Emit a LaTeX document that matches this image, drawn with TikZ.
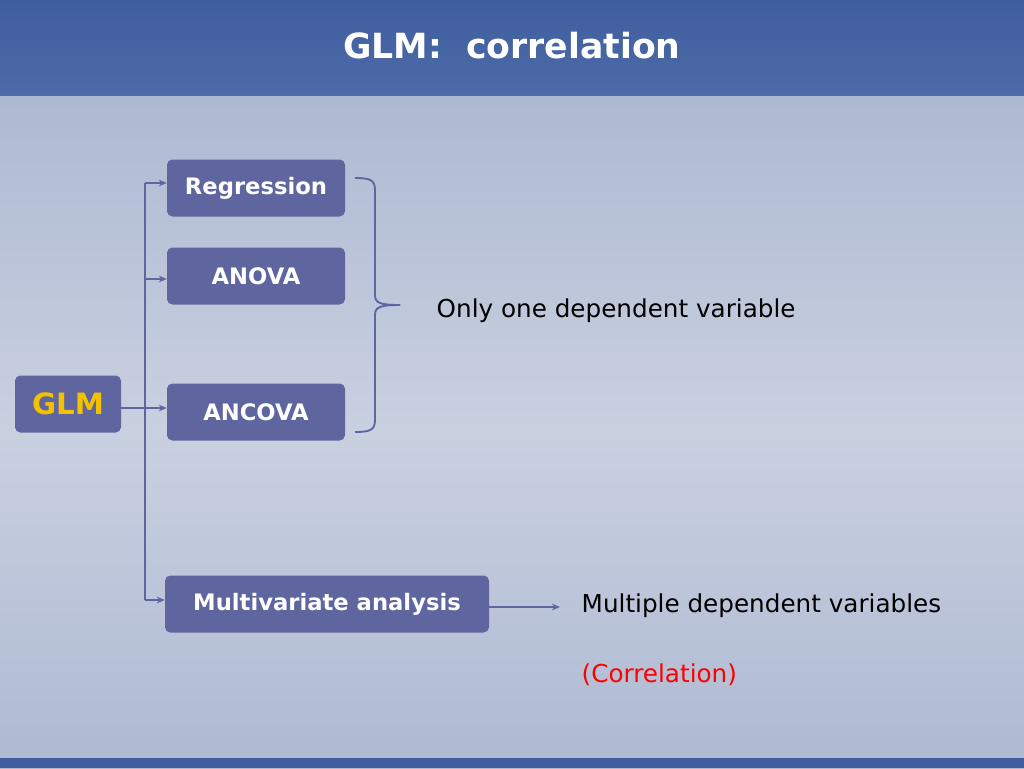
\documentclass[tikz,border=0pt]{standalone}
\usepackage{fontspec}
\setmainfont{DejaVu Sans}
\usetikzlibrary{arrows.meta}
\definecolor{hdr}{HTML}{3F5E9E}
\definecolor{hdr2}{HTML}{4D6BA8}
\definecolor{bgA}{HTML}{AEB9D2}
\definecolor{bgB}{HTML}{C9D0E0}
\definecolor{boxc}{HTML}{5F659F}
\definecolor{linec}{HTML}{5F659F}
\definecolor{glmy}{HTML}{F2C200}
\tikzset{
 boxn/.style={fill=boxc,rounded corners=4pt,text=white,font=\bfseries\fontsize{17}{20}\selectfont,inner sep=0pt},
 conn/.style={draw=linec,line width=1.4pt,-{Stealth[length=6pt,width=5pt]}},
 plain/.style={font=\fontsize{18.5}{22}\selectfont,text=black}
}
\begin{document}
\begin{tikzpicture}[x=0.75pt,y=-0.75pt]
\useasboundingbox (0,0) rectangle (1024,768);
\shade[top color=bgA,bottom color=bgA,middle color=bgB] (0,95) rectangle (1024,768);
\shade[top color=hdr,bottom color=hdr2] (0,0) rectangle (1024,95);
\fill[hdr] (0,758) rectangle (1024,768);
\node[text=white,font=\bfseries\fontsize{26}{30}\selectfont] (title) at (512,46) {GLM:\ \ correlation};
\node[boxn,minimum width=106*0.75pt,minimum height=57*0.75pt] (glm) at (68,404) {\fontsize{22}{24}\selectfont\textcolor{glmy}{GLM}};
\node[boxn,minimum width=178*0.75pt,minimum height=57*0.75pt] (reg) at (256,188) {Regression};
\node[boxn,minimum width=178*0.75pt,minimum height=57*0.75pt] (anova) at (256,276) {ANOVA};
\node[boxn,minimum width=178*0.75pt,minimum height=57*0.75pt] (ancova) at (256,412) {ANCOVA};
\node[boxn,minimum width=324*0.75pt,minimum height=57*0.75pt] (multi) at (327,604) {Multivariate analysis};
\coordinate (top) at (145,183);
\coordinate (bot) at (145,600);
\draw[draw=linec,line width=1.4pt] (top) -- (bot);
\draw[conn] (top) -- (reg.west|-top);
\draw[conn] (145,279) -- (anova.west|-145,279);
\draw[conn] (glm.east|-145,408) -- (ancova.west|-145,408);
\draw[conn] (bot) -- (multi.west|-bot);
\coordinate (tip) at (400,305);
\draw[linec,line width=1.4pt] (355,178) .. controls (370,178) and (375,180) .. (375,190) -- (375,295) .. controls (375,303) and (380,305) .. (tip);
\draw[linec,line width=1.4pt] (355,432) .. controls (370,432) and (375,430) .. (375,420) -- (375,315) .. controls (375,307) and (380,305) .. (tip);
\node[plain,anchor=west] (one) at (432,311) {Only one dependent variable};
\node[plain,anchor=west] (mult) at (577,606) {Multiple dependent variables};
\coordinate (ae) at (560,607);
\draw[conn] (multi.east|-ae) -- (ae);
\node[plain,anchor=west,text=red] (corr) at (577,675) {(Correlation)};
\end{tikzpicture}
\end{document}
